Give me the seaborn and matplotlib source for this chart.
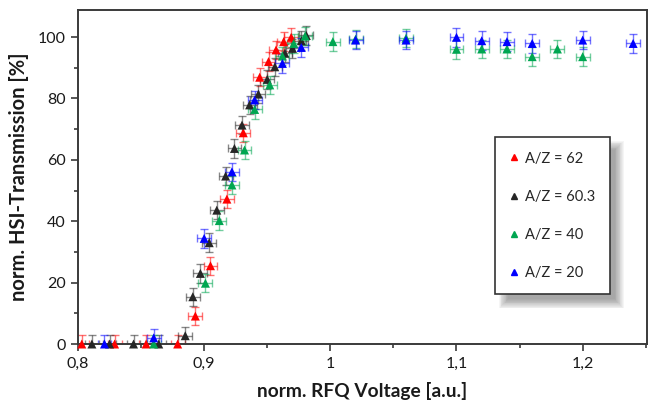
import matplotlib
matplotlib.use("Agg")
import numpy as np
import pandas as pd
import matplotlib.pyplot as plt
import seaborn as sns
from matplotlib.ticker import MultipleLocator, FuncFormatter
from matplotlib.lines import Line2D
from matplotlib.patches import Rectangle
from matplotlib.transforms import IdentityTransform

# Series names and colours
series_labels = ["A/Z = 62", "A/Z = 60.3", "A/Z = 40", "A/Z = 20"]
series_colors = ["#ff0000", "#262626", "#00a651", "#0000ff"]

# Normalised RFQ voltage (a.u.) and HSI transmission (%) per ion species
red_x = [0.803, 0.829, 0.854, 0.879, 0.893, 0.905, 0.918, 0.931, 0.944, 0.951,
         0.957, 0.963, 0.969]
red_y = [0.0, 0.0, 0.0, 0.0, 9.1, 25.5, 47.2, 68.8, 86.9, 92.0, 95.8, 98.5, 99.9]

black_x = [0.811, 0.825, 0.844, 0.864, 0.885, 0.891, 0.897, 0.904, 0.910, 0.917,
           0.924, 0.930, 0.936, 0.943, 0.950, 0.956, 0.964, 0.970, 0.977, 0.981]
black_y = [0.0, 0.0, 0.0, 0.0, 2.7, 15.4, 23.0, 33.0, 43.6, 54.7,
           63.7, 71.3, 77.9, 81.4, 86.2, 90.3, 94.7, 96.3, 98.8, 100.5]

green_x = [0.860, 0.901, 0.912, 0.922, 0.932, 0.940, 0.952, 0.962, 0.971, 0.980,
           1.002, 1.020, 1.060, 1.100, 1.120, 1.140, 1.160, 1.180, 1.200]
green_y = [0.0, 19.8, 40.2, 51.8, 63.2, 76.4, 84.4, 93.8, 97.9, 100.3,
           98.5, 99.3, 99.6, 96.0, 96.1, 96.1, 93.6, 96.1, 93.6]

blue_x = [0.821, 0.860, 0.900, 0.922, 0.940, 0.962, 0.977, 1.020, 1.060, 1.100,
          1.120, 1.140, 1.160, 1.200, 1.240]
blue_y = [0.0, 2.0, 34.4, 56.1, 79.5, 91.4, 96.6, 99.0, 99.0, 99.9,
          98.8, 98.5, 97.9, 99.0, 97.9]

x_err = 0.0055   # voltage uncertainty
y_err = 3.0      # transmission uncertainty

x_ticks = [0.8, 0.9, 1.0, 1.1, 1.2]
y_ticks = [0, 20, 40, 60, 80, 100]

frames = []
for label, xs, ys in zip(series_labels,
                         [red_x, black_x, green_x, blue_x],
                         [red_y, black_y, green_y, blue_y]):
    frames.append(pd.DataFrame({"voltage": xs, "transmission": ys, "series": label}))
df = pd.concat(frames, ignore_index=True)

sns.set_theme(style="ticks")
plt.rcParams["font.family"] = ["Lato", "DejaVu Sans"]

fig = plt.figure(figsize=(6.5, 4.03), dpi=100)
ax = fig.add_axes([78 / 650, 1 - 344 / 403, (647 - 78) / 650, (344 - 10) / 403])

for label, color in zip(series_labels, series_colors):
    sub = df[df["series"] == label]
    ax.errorbar(sub["voltage"], sub["transmission"], xerr=x_err, yerr=y_err,
                fmt="none", ecolor=color, alpha=0.55, elinewidth=1.0,
                capsize=2.8, capthick=1.0, zorder=2)

sns.scatterplot(data=df, x="voltage", y="transmission", hue="series",
                hue_order=series_labels, palette=series_colors, marker="^",
                s=42, edgecolor="none", linewidth=0, legend=False, ax=ax,
                zorder=3, clip_on=False)

ax.set_xlim(0.8, 1.251)
ax.set_ylim(0, 108.8)
ax.set_xticks(x_ticks)
ax.set_yticks(y_ticks)
ax.xaxis.set_minor_locator(MultipleLocator(0.05))
ax.yaxis.set_minor_locator(MultipleLocator(10))
ax.xaxis.set_major_formatter(FuncFormatter(lambda v, p: f"{v:g}".replace(".", ",")))

edge = "#3a3a3a"
for side in ["left", "right", "top", "bottom"]:
    ax.spines[side].set_color(edge)
    ax.spines[side].set_linewidth(1.4)
    ax.spines[side].set_zorder(2.5)
ax.tick_params(which="major", direction="out", length=5, width=1.2, color=edge,
               labelsize=11.5, labelcolor="#1a1a1a", pad=4)
ax.tick_params(which="minor", direction="out", length=3, width=1.2, color=edge)

ax.set_xlabel("norm. RFQ Voltage [a.u.]", fontsize=13.8, fontweight="bold",
              color="#1a1a1a", labelpad=8)
ax.set_ylabel("norm. HSI-Transmission [%]", fontsize=14.5, fontweight="bold",
              color="#1a1a1a", labelpad=6)

handles = [Line2D([], [], marker="^", linestyle="none", color=c, markersize=5)
           for c in series_colors]
leg = ax.legend(handles, series_labels, loc="upper left",
                bbox_to_anchor=(495 / 650, 1 - 137 / 403),
                bbox_transform=fig.transFigure, borderaxespad=0,
                frameon=True, fancybox=False, fontsize=10.5,
                labelspacing=1.65, handlelength=0.6, handletextpad=0.45,
                borderpad=1.0)
frame = leg.get_frame()
frame.set_edgecolor("#333333")
frame.set_linewidth(1.2)
frame.set_facecolor("white")
frame.set_alpha(1)
leg.set_zorder(6)

# soft drop shadow behind the legend box
fig.canvas.draw()
bb = leg.get_window_extent()
dx, dy = 9, -9
for r in np.linspace(-4, 5, 12):
    ax.add_patch(Rectangle((bb.x0 + dx - r, bb.y0 + dy - r),
                           bb.width + 2 * r, bb.height + 2 * r,
                           transform=IdentityTransform(), facecolor="#555555",
                           edgecolor="none", alpha=0.055, zorder=5,
                           clip_on=False))

fig.savefig("out.png", dpi=100)
